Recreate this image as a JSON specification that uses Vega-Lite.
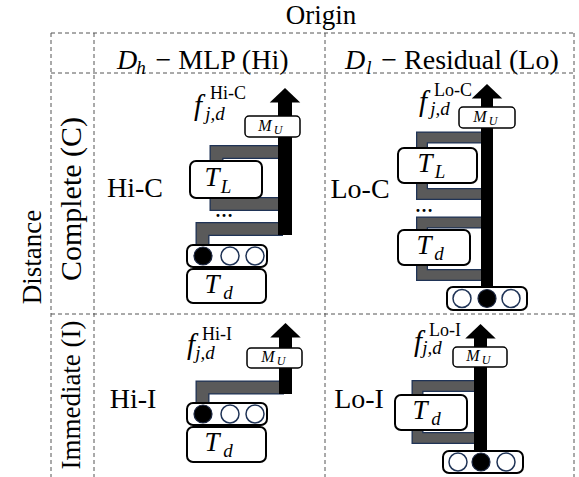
{
  "$schema": "https://vega.github.io/schema/vega-lite/v6.json",
  "width": 579,
  "height": 477,
  "padding": 0,
  "autosize": {"type": "none"},
  "background": "white",
  "config": {"view": {"stroke": null}},
  "datasets": {
    "grid": [
      {"x": 51, "x2": 574, "y": 33, "y2": 33},
      {"x": 51, "x2": 574, "y": 73, "y2": 73},
      {"x": 51, "x2": 574, "y": 314, "y2": 314},
      {"x": 51, "x2": 51, "y": 33, "y2": 477},
      {"x": 94, "x2": 94, "y": 33, "y2": 477},
      {"x": 325, "x2": 325, "y": 33, "y2": 477},
      {"x": 574, "x2": 574, "y": 33, "y2": 477}
    ],
    "bands": [
      {"path": "HiC-top", "origin": "Hi", "seq": 1, "x": 283, "y": 152},
      {"path": "HiC-top", "origin": "Hi", "seq": 2, "x": 216.5, "y": 152},
      {"path": "HiC-top", "origin": "Hi", "seq": 3, "x": 216.5, "y": 204},
      {"path": "HiC-top", "origin": "Hi", "seq": 4, "x": 283, "y": 204},
      {"path": "HiC-low", "origin": "Hi", "seq": 1, "x": 202.5, "y": 248},
      {"path": "HiC-low", "origin": "Hi", "seq": 2, "x": 202.5, "y": 229},
      {"path": "HiC-low", "origin": "Hi", "seq": 3, "x": 283, "y": 229},
      {"path": "LoC-top", "origin": "Lo", "seq": 1, "x": 486, "y": 137.5},
      {"path": "LoC-top", "origin": "Lo", "seq": 2, "x": 422, "y": 137.5},
      {"path": "LoC-top", "origin": "Lo", "seq": 3, "x": 422, "y": 194},
      {"path": "LoC-top", "origin": "Lo", "seq": 4, "x": 486, "y": 194},
      {"path": "LoC-low", "origin": "Lo", "seq": 1, "x": 486, "y": 222.5},
      {"path": "LoC-low", "origin": "Lo", "seq": 2, "x": 422, "y": 222.5},
      {"path": "LoC-low", "origin": "Lo", "seq": 3, "x": 422, "y": 275},
      {"path": "LoC-low", "origin": "Lo", "seq": 4, "x": 486, "y": 275},
      {"path": "HiI", "origin": "Hi", "seq": 1, "x": 202.5, "y": 406},
      {"path": "HiI", "origin": "Hi", "seq": 2, "x": 202.5, "y": 387.5},
      {"path": "HiI", "origin": "Hi", "seq": 3, "x": 284, "y": 387.5},
      {"path": "LoI", "origin": "Lo", "seq": 1, "x": 479, "y": 386},
      {"path": "LoI", "origin": "Lo", "seq": 2, "x": 417.5, "y": 386},
      {"path": "LoI", "origin": "Lo", "seq": 3, "x": 417.5, "y": 438},
      {"path": "LoI", "origin": "Lo", "seq": 4, "x": 479, "y": 438}
    ],
    "shafts": [
      {"cell": "Hi-C", "x": 278, "x2": 292, "y": 102, "y2": 235},
      {"cell": "Lo-C", "x": 481, "x2": 493, "y": 98, "y2": 288},
      {"cell": "Hi-I", "x": 279, "x2": 292, "y": 337, "y2": 394},
      {"cell": "Lo-I", "x": 474, "x2": 487, "y": 338, "y2": 452}
    ],
    "heads": [
      {"cell": "Hi-C", "x": 285, "y": 102.5},
      {"cell": "Lo-C", "x": 487, "y": 98.5},
      {"cell": "Hi-I", "x": 285.5, "y": 337.5},
      {"cell": "Lo-I", "x": 480.5, "y": 338.5}
    ],
    "boxes": [
      {"cell": "Hi-C", "kind": "module", "x": 190, "x2": 262, "y": 161, "y2": 198},
      {"cell": "Hi-C", "kind": "module", "x": 187, "x2": 266, "y": 269, "y2": 303},
      {"cell": "Lo-C", "kind": "module", "x": 398, "x2": 477, "y": 148, "y2": 183},
      {"cell": "Lo-C", "kind": "module", "x": 398, "x2": 470, "y": 230, "y2": 265},
      {"cell": "Hi-I", "kind": "module", "x": 187, "x2": 266, "y": 427, "y2": 462},
      {"cell": "Lo-I", "kind": "module", "x": 395, "x2": 467, "y": 395, "y2": 430},
      {"cell": "Hi-C", "kind": "token", "x": 187, "x2": 267, "y": 245, "y2": 267},
      {"cell": "Lo-C", "kind": "token", "x": 447, "x2": 527, "y": 287, "y2": 310},
      {"cell": "Hi-I", "kind": "token", "x": 187, "x2": 267, "y": 403, "y2": 425},
      {"cell": "Lo-I", "kind": "token", "x": 443, "x2": 523, "y": 451, "y2": 473},
      {"cell": "Hi-C", "kind": "mu", "x": 245, "x2": 300, "y": 116, "y2": 137},
      {"cell": "Lo-C", "kind": "mu", "x": 459, "x2": 515, "y": 107, "y2": 128},
      {"cell": "Hi-I", "kind": "mu", "x": 247, "x2": 302, "y": 348, "y2": 368},
      {"cell": "Lo-I", "kind": "mu", "x": 453, "x2": 507, "y": 347, "y2": 367}
    ],
    "circles": [
      {"cell": "Hi-C", "state": "on", "x": 203, "y": 256},
      {"cell": "Hi-C", "state": "off", "x": 230, "y": 256},
      {"cell": "Hi-C", "state": "off", "x": 255, "y": 256},
      {"cell": "Lo-C", "state": "off", "x": 462, "y": 298.5},
      {"cell": "Lo-C", "state": "on", "x": 487, "y": 298.5},
      {"cell": "Lo-C", "state": "off", "x": 511, "y": 298.5},
      {"cell": "Hi-I", "state": "on", "x": 203, "y": 414},
      {"cell": "Hi-I", "state": "off", "x": 230, "y": 414},
      {"cell": "Hi-I", "state": "off", "x": 255, "y": 414},
      {"cell": "Lo-I", "state": "off", "x": 458, "y": 462},
      {"cell": "Lo-I", "state": "on", "x": 481, "y": 462},
      {"cell": "Lo-I", "state": "off", "x": 506, "y": 462}
    ],
    "labels": [
      {"text": "Origin", "role": "title", "x": 321, "y": 16},
      {"text": "− MLP (Hi)", "role": "header", "x": 222, "y": 61},
      {"text": "− Residual (Lo)", "role": "header", "x": 470, "y": 61},
      {"text": "Hi-C", "role": "cell", "x": 135, "y": 189},
      {"text": "Lo-C", "role": "cell", "x": 360, "y": 190},
      {"text": "Hi-I", "role": "cell", "x": 133, "y": 400},
      {"text": "Lo-I", "role": "cell", "x": 359, "y": 400},
      {"text": "Hi-C", "role": "fSup", "x": 228, "y": 94},
      {"text": "Lo-C", "role": "fSup", "x": 453, "y": 91},
      {"text": "Hi-I", "role": "fSup", "x": 217, "y": 335},
      {"text": "Lo-I", "role": "fSup", "x": 445, "y": 331},
      {"text": "…", "role": "dots", "x": 224, "y": 212},
      {"text": "…", "role": "dots", "x": 424, "y": 207},
      {"text": "D", "role": "headerMath", "x": 127, "y": 61},
      {"text": "h", "role": "headerSub", "x": 141, "y": 68},
      {"text": "D", "role": "headerMath", "x": 355, "y": 61},
      {"text": "l", "role": "headerSub", "x": 369, "y": 68},
      {"text": "f", "role": "fMain", "x": 198, "y": 106},
      {"text": "f", "role": "fMain", "x": 423, "y": 102},
      {"text": "f", "role": "fMain", "x": 191, "y": 345},
      {"text": "f", "role": "fMain", "x": 418, "y": 342},
      {"text": "j,d", "role": "fSub", "x": 215, "y": 114},
      {"text": "j,d", "role": "fSub", "x": 440, "y": 109},
      {"text": "j,d", "role": "fSub", "x": 205, "y": 353},
      {"text": "j,d", "role": "fSub", "x": 432, "y": 348},
      {"text": "T", "role": "tMain", "x": 212, "y": 178},
      {"text": "L", "role": "tSub", "x": 226, "y": 187},
      {"text": "T", "role": "tMain", "x": 212, "y": 285},
      {"text": "d", "role": "tSub", "x": 228, "y": 293},
      {"text": "T", "role": "tMain", "x": 425, "y": 164},
      {"text": "L", "role": "tSub", "x": 440, "y": 172},
      {"text": "T", "role": "tMain", "x": 424, "y": 246},
      {"text": "d", "role": "tSub", "x": 439, "y": 254},
      {"text": "T", "role": "tMain", "x": 212, "y": 443},
      {"text": "d", "role": "tSub", "x": 228, "y": 451},
      {"text": "T", "role": "tMain", "x": 420, "y": 411},
      {"text": "d", "role": "tSub", "x": 436, "y": 419},
      {"text": "M", "role": "muMain", "x": 265, "y": 125.5},
      {"text": "U", "role": "muSub", "x": 278, "y": 130},
      {"text": "M", "role": "muMain", "x": 480, "y": 116.5},
      {"text": "U", "role": "muSub", "x": 493, "y": 121},
      {"text": "M", "role": "muMain", "x": 268, "y": 356.5},
      {"text": "U", "role": "muSub", "x": 281, "y": 361},
      {"text": "M", "role": "muMain", "x": 473, "y": 355.5},
      {"text": "U", "role": "muSub", "x": 486, "y": 360},
      {"text": "Distance", "role": "axisLabel", "x": 33, "y": 257},
      {"text": "Complete (C)", "role": "rowLong", "x": 72, "y": 199},
      {"text": "Immediate (I)", "role": "rowLabel", "x": 72, "y": 395}
    ]
  },
  "encoding": {
    "x": {"field": "x", "type": "quantitative", "scale": {"domain": [0, 579], "nice": false, "zero": false}, "axis": null},
    "y": {"field": "y", "type": "quantitative", "scale": {"domain": [0, 477], "nice": false, "zero": false, "reverse": true}, "axis": null}
  },
  "layer": [
    {
      "data": {"name": "grid"},
      "mark": {"type": "rule", "color": "#555555", "strokeWidth": 1, "strokeDash": [4, 3]},
      "encoding": {"x2": {"field": "x2"}, "y2": {"field": "y2"}}
    },
    {
      "data": {"name": "bands"},
      "transform": [{"filter": "datum.origin === 'Hi'"}],
      "mark": {"type": "line", "color": "#1f3356", "strokeWidth": 14, "strokeJoin": "miter", "strokeCap": "butt"},
      "encoding": {"detail": {"field": "path"}, "order": {"field": "seq", "type": "quantitative"}}
    },
    {
      "data": {"name": "bands"},
      "transform": [{"filter": "datum.origin === 'Hi'"}],
      "mark": {"type": "line", "color": "#5a5a5a", "strokeWidth": 11.5, "strokeJoin": "miter", "strokeCap": "butt"},
      "encoding": {"detail": {"field": "path"}, "order": {"field": "seq", "type": "quantitative"}}
    },
    {
      "data": {"name": "bands"},
      "transform": [{"filter": "datum.origin === 'Lo'"}],
      "mark": {"type": "line", "color": "#1f3356", "strokeWidth": 12, "strokeJoin": "miter", "strokeCap": "butt"},
      "encoding": {"detail": {"field": "path"}, "order": {"field": "seq", "type": "quantitative"}}
    },
    {
      "data": {"name": "bands"},
      "transform": [{"filter": "datum.origin === 'Lo'"}],
      "mark": {"type": "line", "color": "#5a5a5a", "strokeWidth": 9.5, "strokeJoin": "miter", "strokeCap": "butt"},
      "encoding": {"detail": {"field": "path"}, "order": {"field": "seq", "type": "quantitative"}}
    },
    {
      "data": {"name": "shafts"},
      "mark": {"type": "rect", "color": "#000000"},
      "encoding": {"x2": {"field": "x2"}, "y2": {"field": "y2"}}
    },
    {
      "data": {"name": "heads"},
      "mark": {"type": "point", "shape": "M-1,0L0,-0.95L1,0Z", "size": 930, "filled": true, "color": "#000000", "opacity": 1}
    },
    {
      "data": {"name": "boxes"},
      "transform": [{"filter": "datum.kind !== 'mu'"}],
      "mark": {"type": "rect", "fill": "#ffffff", "stroke": "#000000", "strokeWidth": 2, "cornerRadius": 6},
      "encoding": {"x2": {"field": "x2"}, "y2": {"field": "y2"}}
    },
    {
      "data": {"name": "boxes"},
      "transform": [{"filter": "datum.kind === 'mu'"}],
      "mark": {"type": "rect", "fill": "#ffffff", "stroke": "#000000", "strokeWidth": 1.5, "cornerRadius": 4},
      "encoding": {"x2": {"field": "x2"}, "y2": {"field": "y2"}}
    },
    {
      "data": {"name": "circles"},
      "transform": [{"filter": "datum.state === 'on'"}],
      "mark": {"type": "point", "shape": "circle", "size": 324, "filled": true, "fill": "#000000", "stroke": "#1a2540", "strokeWidth": 1.2, "opacity": 1}
    },
    {
      "data": {"name": "circles"},
      "transform": [{"filter": "datum.state === 'off'"}],
      "mark": {"type": "point", "shape": "circle", "size": 324, "filled": true, "fill": "#ffffff", "stroke": "#1f3356", "strokeWidth": 1.5, "opacity": 1}
    },
    {
      "data": {"name": "labels"},
      "transform": [{"filter": "datum.role === 'title'"}],
      "mark": {"type": "text", "font": "Liberation Serif", "fontSize": 27, "align": "center", "baseline": "middle", "color": "#000000"},
      "encoding": {"text": {"field": "text"}}
    },
    {
      "data": {"name": "labels"},
      "transform": [{"filter": "datum.role === 'header'"}],
      "mark": {"type": "text", "font": "Liberation Serif", "fontSize": 28, "align": "center", "baseline": "middle", "color": "#000000"},
      "encoding": {"text": {"field": "text"}}
    },
    {
      "data": {"name": "labels"},
      "transform": [{"filter": "datum.role === 'cell'"}],
      "mark": {"type": "text", "font": "Liberation Serif", "fontSize": 28, "align": "center", "baseline": "middle", "color": "#000000"},
      "encoding": {"text": {"field": "text"}}
    },
    {
      "data": {"name": "labels"},
      "transform": [{"filter": "datum.role === 'fSup'"}],
      "mark": {"type": "text", "font": "Liberation Serif", "fontSize": 18, "align": "center", "baseline": "middle", "color": "#000000"},
      "encoding": {"text": {"field": "text"}}
    },
    {
      "data": {"name": "labels"},
      "transform": [{"filter": "datum.role === 'dots'"}],
      "mark": {"type": "text", "font": "Liberation Serif", "fontSize": 18, "fontWeight": "bold", "align": "center", "baseline": "middle", "color": "#000000"},
      "encoding": {"text": {"field": "text"}}
    },
    {
      "data": {"name": "labels"},
      "transform": [{"filter": "datum.role === 'headerMath'"}],
      "mark": {"type": "text", "font": "Liberation Serif", "fontStyle": "italic", "fontSize": 28, "align": "center", "baseline": "middle", "color": "#000000"},
      "encoding": {"text": {"field": "text"}}
    },
    {
      "data": {"name": "labels"},
      "transform": [{"filter": "datum.role === 'headerSub'"}],
      "mark": {"type": "text", "font": "Liberation Serif", "fontStyle": "italic", "fontSize": 19, "align": "center", "baseline": "middle", "color": "#000000"},
      "encoding": {"text": {"field": "text"}}
    },
    {
      "data": {"name": "labels"},
      "transform": [{"filter": "datum.role === 'fMain'"}],
      "mark": {"type": "text", "font": "Liberation Serif", "fontStyle": "italic", "fontSize": 29, "align": "center", "baseline": "middle", "color": "#000000"},
      "encoding": {"text": {"field": "text"}}
    },
    {
      "data": {"name": "labels"},
      "transform": [{"filter": "datum.role === 'fSub'"}],
      "mark": {"type": "text", "font": "Liberation Serif", "fontStyle": "italic", "fontSize": 19, "align": "center", "baseline": "middle", "color": "#000000"},
      "encoding": {"text": {"field": "text"}}
    },
    {
      "data": {"name": "labels"},
      "transform": [{"filter": "datum.role === 'tMain'"}],
      "mark": {"type": "text", "font": "Liberation Serif", "fontStyle": "italic", "fontSize": 27, "align": "center", "baseline": "middle", "color": "#000000"},
      "encoding": {"text": {"field": "text"}}
    },
    {
      "data": {"name": "labels"},
      "transform": [{"filter": "datum.role === 'tSub'"}],
      "mark": {"type": "text", "font": "Liberation Serif", "fontStyle": "italic", "fontSize": 19, "align": "center", "baseline": "middle", "color": "#000000"},
      "encoding": {"text": {"field": "text"}}
    },
    {
      "data": {"name": "labels"},
      "transform": [{"filter": "datum.role === 'muMain'"}],
      "mark": {"type": "text", "font": "Liberation Serif", "fontStyle": "italic", "fontSize": 16, "align": "center", "baseline": "middle", "color": "#000000"},
      "encoding": {"text": {"field": "text"}}
    },
    {
      "data": {"name": "labels"},
      "transform": [{"filter": "datum.role === 'muSub'"}],
      "mark": {"type": "text", "font": "Liberation Serif", "fontStyle": "italic", "fontSize": 12, "align": "center", "baseline": "middle", "color": "#000000"},
      "encoding": {"text": {"field": "text"}}
    },
    {
      "data": {"name": "labels"},
      "transform": [{"filter": "datum.role === 'axisLabel' || datum.role === 'rowLabel'"}],
      "mark": {"type": "text", "font": "Liberation Serif", "fontSize": 27, "angle": 270, "align": "center", "baseline": "middle", "color": "#000000"},
      "encoding": {"text": {"field": "text"}}
    },
    {
      "data": {"name": "labels"},
      "transform": [{"filter": "datum.role === 'rowLong'"}],
      "mark": {"type": "text", "font": "Liberation Serif", "fontSize": 30, "angle": 270, "align": "center", "baseline": "middle", "color": "#000000"},
      "encoding": {"text": {"field": "text"}}
    }
  ]
}
